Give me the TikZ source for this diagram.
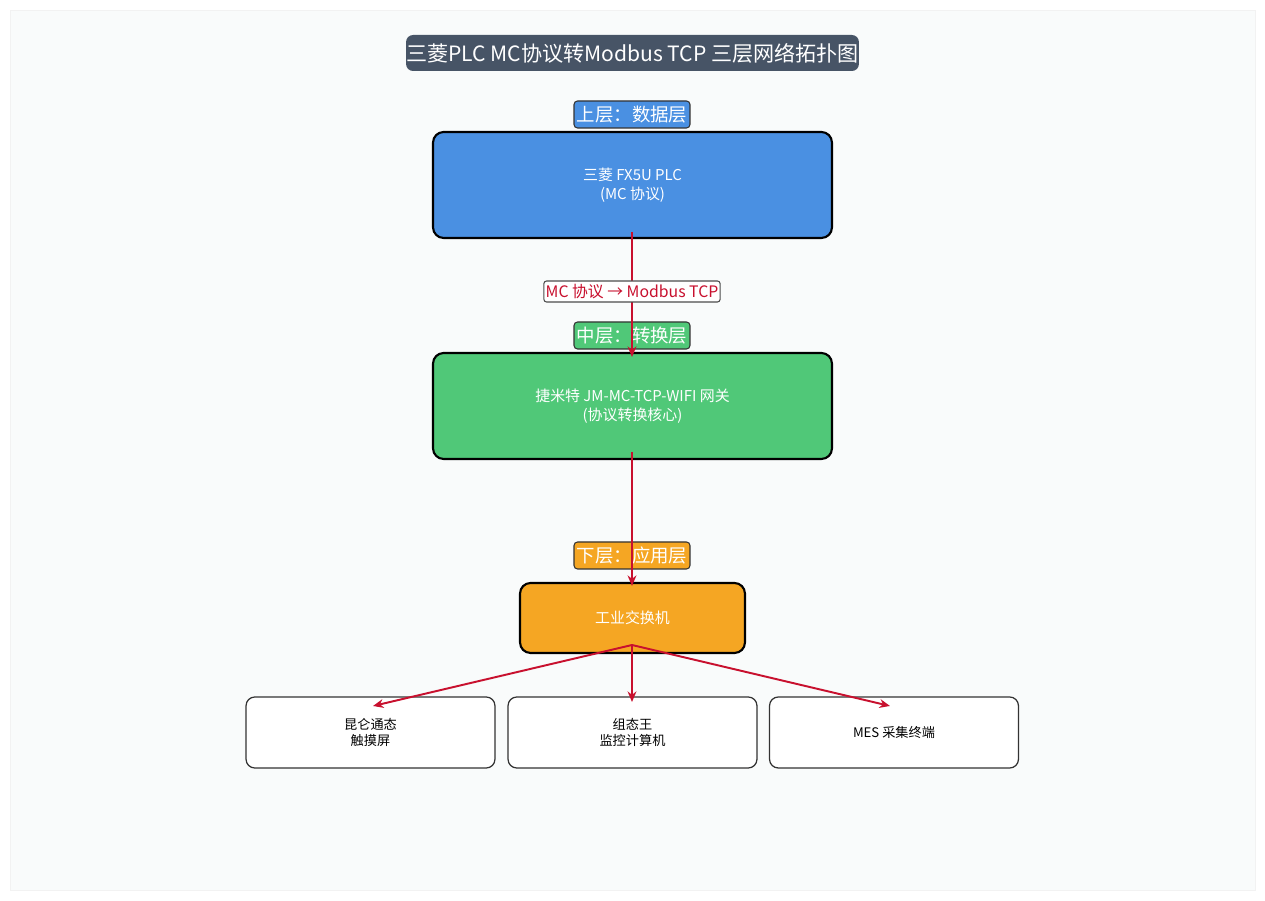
\documentclass[tikz,border=0pt]{standalone}
\usepackage{fontspec}
\setmainfont{Noto Sans CJK SC}
\usetikzlibrary{arrows.meta}
\definecolor{bgc}{HTML}{F9FBFB}
\definecolor{titc}{HTML}{475466}
\definecolor{bluec}{HTML}{4A90E2}
\definecolor{greenc}{HTML}{50C878}
\definecolor{orangec}{HTML}{F5A623}
\definecolor{redc}{HTML}{C8102E}
\begin{document}
\begin{tikzpicture}[x=0.02cm,y=-0.02cm,
  box/.style={draw=black,line width=1.2pt,rounded corners=6pt,text=white,font=\fontsize{8.5}{10.5}\selectfont,align=center},
  tag/.style={draw=black!80,line width=0.6pt,rounded corners=2pt,text=white,font=\fontsize{10.5}{12}\selectfont,minimum width=2.32cm,minimum height=0.54cm,inner sep=0pt},
  leaf/.style={draw=black!80,line width=0.7pt,rounded corners=5pt,fill=white,font=\fontsize{7.5}{9.5}\selectfont,align=center,minimum width=4.98cm,minimum height=1.42cm},
  link/.style={draw=redc,line width=1.1pt,-{Stealth[length=6pt,width=5pt]}}]
\useasboundingbox (0,0) rectangle (1265,901);
\draw[fill=bgc,draw=black!5] (10,10) rectangle (1255,890);
\node[fill=titc,rounded corners=4pt,text=white,font=\fontsize{12}{15}\selectfont,minimum width=8.9cm,minimum height=0.72cm,inner sep=0pt] (title) at (632.5,53) {三菱PLC MC协议转Modbus TCP 三层网络拓扑图};
\node[box,fill=bluec,minimum width=7.98cm,minimum height=2.12cm] (plc) at (632.5,185) {三菱 FX5U PLC\\(MC 协议)};
\node[box,fill=greenc,minimum width=7.98cm,minimum height=2.12cm] (gw) at (632.5,406) {捷米特 JM-MC-TCP-WIFI 网关\\(协议转换核心)};
\node[box,fill=orangec,minimum width=4.5cm,minimum height=1.4cm] (sw) at (632.5,618) {工业交换机};
\node[leaf] (hmi) at (370.5,732.5) {昆仑通态\\触摸屏};
\node[leaf] (pc) at (632.5,732.5) {组态王\\监控计算机};
\node[leaf] (mes) at (894,732.5) {MES 采集终端};
\node[tag,fill=bluec] (t1) at (632,114.5) {上层：数据层};
\node[tag,fill=greenc] (t2) at (632,335.5) {中层：转换层};
\node[tag,fill=orangec] (t3) at (632,555.5) {下层：应用层};
\coordinate (a1) at (632,232);
\coordinate (a1e) at (632,357);
\coordinate (a2) at (632,452);
\coordinate (a2e) at (632,586);
\coordinate (a3) at (632,645);
\coordinate (e1) at (373,706);
\coordinate (e2) at (632,702);
\coordinate (e3) at (890,706);
\draw[link] (a1) -- (a1e);
\draw[link] (a2) -- (a2e);
\draw[link] (a3) -- (e1);
\draw[link] (a3) -- (e2);
\draw[link] (a3) -- (e3);
\node[draw=black!70,line width=0.6pt,fill=white,text=redc,rounded corners=1.5pt,font=\fontsize{9}{11}\selectfont,minimum width=3.4cm,minimum height=0.42cm,inner sep=1pt] (lab) at (632,291.5) {MC 协议 → Modbus TCP};
\end{tikzpicture}
\end{document}
